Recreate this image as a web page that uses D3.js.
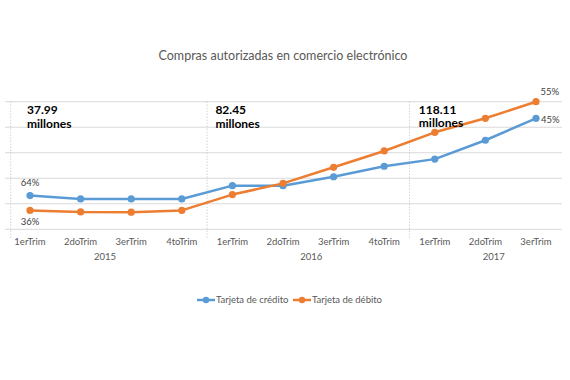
<!DOCTYPE html>
<html>
<head>
<meta charset="utf-8">
<script src="https://cdn.jsdelivr.net/npm/d3@7"></script>
<style>
  html, body { margin: 0; padding: 0; background: #fff; }
  svg { display: block; }
  text { font-family: Lato, "Open Sans", sans-serif; }
</style>
</head>
<body>
<svg id="chart" width="570" height="380"></svg>
<script>
// ---- data ----
const quarters = ["1erTrim","2doTrim","3erTrim","4toTrim","1erTrim","2doTrim","3erTrim","4toTrim","1erTrim","2doTrim","3erTrim"];
const years = ["2015","2016","2017"];
const yearOfQuarter = [0,0,0,0,1,1,1,1,2,2,2];
const credito = [13.2, 11.9, 11.9, 11.9, 17.1, 17.1, 20.6, 24.7, 27.5, 34.9, 43.5];
const debito  = [7.4, 6.8, 6.7, 7.4, 13.6, 18.0, 24.3, 30.7, 38.0, 43.5, 50.0];
const totals = ["37.99", "82.45", "118.11"];
const totalAt = [0, 4, 8];
const seriesNames = ["Tarjeta de crédito", "Tarjeta de débito"];
const pctStart = ["64%", "36%"];
const pctEnd = ["45%", "55%"];
const yTicks = [0, 10, 20, 30, 40, 50];
const title = "Compras autorizadas en comercio electrónico";

// ---- drawing ----
const svg = d3.select("#chart");
const colors = ["#5B9BD5", "#ED7D31"];
const idx = d3.range(quarters.length);

const x = d3.scaleBand().domain(idx).range([4.7, 561.3]);
const cx = i => x(i) + x.bandwidth() / 2;
const y = d3.scaleLinear().domain([0, 50]).range([229.3, 101.7]);

svg.append("text")
  .attr("x", 283).attr("y", 59.5)
  .attr("text-anchor", "middle")
  .attr("font-size", 12.5).attr("fill", "#595959")
  .text(title);

// gridlines
svg.append("g").selectAll("line").data(yTicks).join("line")
  .attr("x1", 5).attr("x2", 562)
  .attr("y1", d => y(d)).attr("y2", d => y(d))
  .attr("stroke", "#d9d9d9").attr("stroke-width", 1);

// group separators (dotted)
const groupStarts = years.map((yr, k) => yearOfQuarter.indexOf(k));
const sepX = groupStarts.map((s, k) => k === 0 ? x(s) + 6 : x(s));
svg.append("g").selectAll("line").data(sepX).join("line")
  .attr("x1", d => d).attr("x2", d => d)
  .attr("y1", y(50)).attr("y2", 238)
  .attr("stroke", "#bfbfbf").attr("stroke-width", 1)
  .attr("stroke-dasharray", "1,2");

// quarter tick labels
svg.append("g").selectAll("text").data(idx).join("text")
  .attr("x", d => cx(d)).attr("y", 244.5)
  .attr("text-anchor", "middle").attr("font-size", 9.5).attr("fill", "#595959")
  .text(d => quarters[d]);

// year labels
const groupEnds = years.map((yr, k) => k < years.length - 1 ? sepX[k + 1] : 562);
svg.append("g").selectAll("text").data(years).join("text")
  .attr("x", (d, k) => (sepX[k] + groupEnds[k]) / 2 + [-4, 3, 8][k])
  .attr("y", 260)
  .attr("text-anchor", "middle").attr("font-size", 9.5).attr("fill", "#595959")
  .text(d => d);

// lines
const line = d3.line().x((d, i) => cx(i)).y(d => y(d));
[credito, debito].forEach((s, k) => {
  const g = svg.append("g");
  g.append("path").datum(s)
    .attr("d", line).attr("fill", "none")
    .attr("stroke", colors[k]).attr("stroke-width", 2.5)
    .attr("stroke-linejoin", "round");
  g.selectAll("circle").data(s).join("circle")
    .attr("cx", (d, i) => cx(i)).attr("cy", d => y(d))
    .attr("r", 3.6).attr("fill", colors[k]);
});

// total annotations
const totalDx = [-3, -17, -16];
totals.forEach((t, k) => {
  const tx = cx(totalAt[k]) + totalDx[k];
  const tt = svg.append("text").attr("x", tx).attr("y", 114)
    .attr("font-size", 12).attr("font-weight", "bold").attr("fill", "#000");
  tt.append("tspan").attr("x", tx).attr("y", k === 2 ? 113.5 : 114).text(t);
  tt.append("tspan").attr("x", tx).attr("y", k === 2 ? 127 : 128.3).text("millones");
});

// percent labels
const last = quarters.length - 1;
svg.append("text").attr("x", cx(0)).attr("y", y(credito[0]) - 10)
  .attr("text-anchor", "middle").attr("font-size", 9.5).attr("fill", "#404040").text(pctStart[0]);
svg.append("text").attr("x", cx(0)).attr("y", y(debito[0]) + 15)
  .attr("text-anchor", "middle").attr("font-size", 9.5).attr("fill", "#404040").text(pctStart[1]);
svg.append("text").attr("x", cx(last) + 5).attr("y", y(credito[last]) + 5)
  .attr("font-size", 9.5).attr("fill", "#404040").text(pctEnd[0]);
svg.append("text").attr("x", cx(last) + 4.5).attr("y", y(debito[last]) - 6.5)
  .attr("font-size", 9.5).attr("fill", "#404040").text(pctEnd[1]);

// legend
const legX = [197, 293];
seriesNames.forEach((n, k) => {
  const g = svg.append("g").attr("transform", `translate(${legX[k]},300)`);
  g.append("line").attr("x1", 0).attr("x2", 18).attr("y1", 0).attr("y2", 0)
    .attr("stroke", colors[k]).attr("stroke-width", 2.5);
  g.append("circle").attr("cx", 9).attr("cy", 0).attr("r", 3.2).attr("fill", colors[k]);
  g.append("text").attr("x", 19).attr("y", 3.3)
    .attr("font-size", 9.5).attr("fill", "#595959").text(n);
});
</script>
</body>
</html>
